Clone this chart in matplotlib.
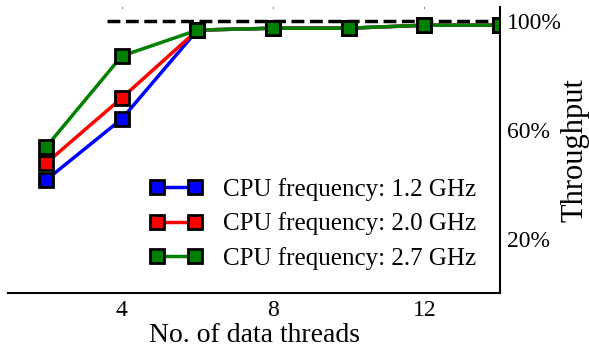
import matplotlib.pyplot as plt

# Datos
threads = [2, 4, 6, 8, 10, 12, 14]
tp_12 = [41.5, 63.9, 96.5, 97.2, 97.2, 98.3, 98.3]
tp_20 = [47.7, 71.6, 96.5, 97.2, 97.2, 98.3, 98.3]
tp_27 = [53.6, 87.0, 96.5, 97.2, 97.2, 98.3, 98.3]
labels = ['CPU frequency: 1.2 GHz', 'CPU frequency: 2.0 GHz', 'CPU frequency: 2.7 GHz']
colors = ['blue', 'red', 'green']

plt.rcParams['font.family'] = ['Liberation Serif', 'DejaVu Serif']

fig, ax = plt.subplots(figsize=(5.89, 3.47), dpi=100)

for y, lab, c in zip([tp_12, tp_20, tp_27], labels, colors):
    ax.plot(threads, y, color=c, lw=2.5, marker='s', markersize=10,
            markerfacecolor=c, markeredgecolor='black', markeredgewidth=2, label=lab)

# Línea de referencia del 100%
ax.plot([3.6, 14], [100, 100], 'k--', lw=2.5, zorder=1)

ax.set_xlim(1, 14)
ax.set_ylim(0, 105)
ax.set_xticks([4, 8, 12])
ax.set_yticks([20, 60, 100])
ax.set_yticklabels(['20%', '60%', '100%'])
ax.yaxis.tick_right()
ax.tick_params(length=0, labelsize=17, pad=5)
ax.tick_params(axis='x', top=True, direction='in', length=1)
ax.set_xlabel('No. of data threads', fontsize=20, labelpad=1)

# Etiqueta del eje y (a la derecha)
fig.text(575 / 589, 0.568, 'Throughput', rotation=90, fontsize=22,
         ha='center', va='center')

for s in ['top', 'left']:
    ax.spines[s].set_visible(False)
for s in ['bottom', 'right']:
    ax.spines[s].set_linewidth(1.5)

ax.legend(loc='lower right', frameon=False, fontsize=18, numpoints=2,
          handlelength=2.1, handletextpad=0.85,
          borderaxespad=0.54, labelspacing=0.45)

plt.subplots_adjust(left=0.014, right=0.849, bottom=0.155, top=0.98)
plt.savefig('out.png')
